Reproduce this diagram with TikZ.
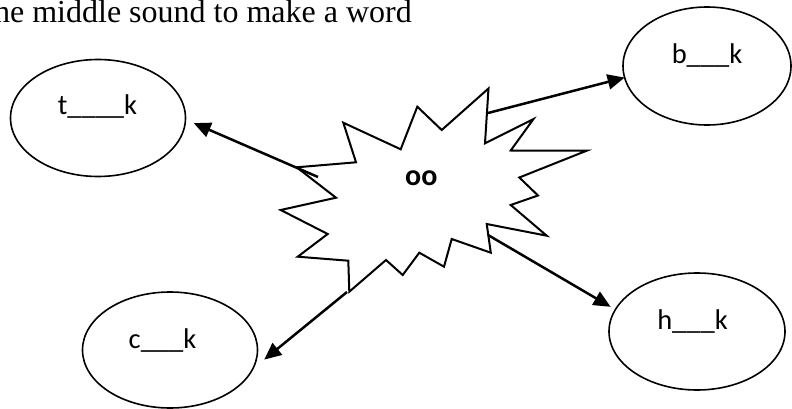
\documentclass[tikz,border=0pt]{standalone}
\usepackage{fontspec}
\setmainfont{Liberation Serif}
\newfontfamily\calib{Carlito}
\usetikzlibrary{shapes.geometric,arrows.meta}
\begin{document}
\begin{tikzpicture}[x=1pt,y=-1pt,
  bubble/.style={ellipse,draw,line width=1.6pt,minimum height=117pt,inner sep=0pt,outer sep=0pt},
  lbl/.style={inner sep=0pt,anchor=base,font=\calib\fontsize{28.5}{34}\selectfont},
  burst/.style={draw,line width=2pt,line join=miter,fill=white},
  arr/.style={line width=2.5pt,-{Triangle[length=17pt,width=15pt]}}]
\useasboundingbox (0,0) rectangle (792,409);

% title (cut at the left edge)
\node[inner sep=0pt,anchor=base east,font=\fontsize{32}{38}\selectfont] (title) at (412,22.3) {he middle sound to make a word};

% ellipses
\node[bubble,minimum width=175pt] (tk) at (98,118) {};
\node[bubble,minimum width=168pt,minimum height=118pt] (bk) at (707,66) {};
\node[bubble,minimum width=175pt,minimum height=116pt] (ck) at (170,350) {};
\node[bubble,minimum width=176pt] (hk) at (697,331.5) {};

\node[lbl] (tkl) at (97.5,115) {t\_\_\_\_k};
\node[lbl] (bkl) at (707,63.3) {b\_\_\_k};
\node[lbl] (ckl) at (162.5,348.3) {c\_\_\_k};
\node[lbl] (hkl) at (692.5,329.3) {h\_\_\_k};

% starburst
\draw[burst] (296.7,167.3) -- (356,162.3) -- (343.3,122.7) -- (400.7,149.3)
  -- (417.3,106.7) -- (441.7,130) -- (488.5,88.5) -- (485,143.3)
  -- (533.5,119) -- (510.7,150.5) -- (586.7,150.7) -- (519.3,177.5)
  -- (538,195.5) -- (510.7,205) -- (546.7,235.7) -- (486.7,224)
  -- (490.8,252.7) -- (451.7,239) -- (444,266.7) -- (419.3,252.7)
  -- (402.7,275) -- (386,260) -- (349.3,291.7) -- (348.3,260.7)
  -- (297.7,256.7) -- (327.7,234) -- (280.7,210) -- (336,197.7) -- cycle;
\node[inner sep=0pt,anchor=base,font=\calib\bfseries\fontsize{30}{36}\selectfont] (oo) at (421.3,185.7) {oo};

% arrows
\coordinate (s1) at (318,177);
\coordinate (s2) at (488,113);
\coordinate (s3) at (488,235);
\coordinate (s4) at (347,292);
\draw[arr,shorten >=9pt] (s1) -- (tk.-1.5);
\draw[arr] (s2) -- (bk.188.3);
\draw[arr,shorten >=5.5pt] (s3) -- (hk.165.9);
\draw[arr,shorten >=15pt] (s4) -- (ck.-13.3);
\end{tikzpicture}
\end{document}
